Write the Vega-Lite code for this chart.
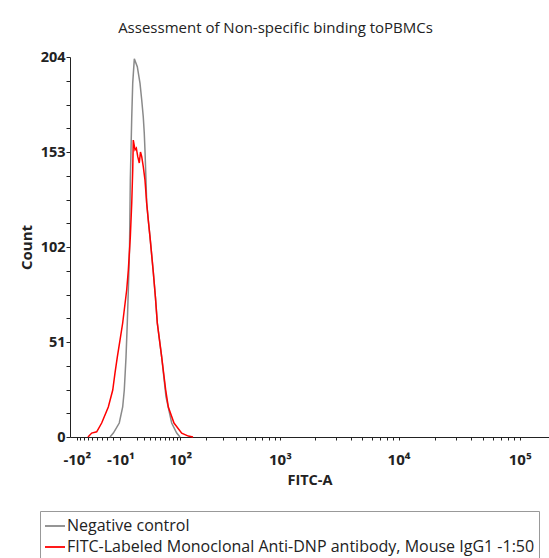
{
  "$schema": "https://vega.github.io/schema/vega-lite/v6.json",
  "width": 479,
  "height": 380,
  "autosize": {"type": "none"},
  "padding": {"left": 70, "top": 57, "right": 0, "bottom": 121},
  "background": "white",
  "config": {
    "view": {"stroke": null},
    "font": "Open Sans"
  },
  "title": {
    "text": "Assessment of Non-specific binding toPBMCs",
    "fontSize": 15,
    "fontWeight": "normal",
    "color": "#222",
    "anchor": "middle",
    "dx": -34,
    "offset": 13
  },
  "datasets": {
    "hist": [
      {"series": "Negative control", "fitc": -25.2, "count": 0},
      {"series": "Negative control", "fitc": -20.0, "count": 2.1},
      {"series": "Negative control", "fitc": -11.5, "count": 7.5},
      {"series": "Negative control", "fitc": -7.0, "count": 16.1},
      {"series": "Negative control", "fitc": -5.0, "count": 25.2},
      {"series": "Negative control", "fitc": -2.9, "count": 42.9},
      {"series": "Negative control", "fitc": -1.4, "count": 61.2},
      {"series": "Negative control", "fitc": -0.2, "count": 78.9},
      {"series": "Negative control", "fitc": 1.15, "count": 100.4},
      {"series": "Negative control", "fitc": 2.1, "count": 138},
      {"series": "Negative control", "fitc": 2.9, "count": 154.1},
      {"series": "Negative control", "fitc": 3.8, "count": 171.8},
      {"series": "Negative control", "fitc": 5.0, "count": 190},
      {"series": "Negative control", "fitc": 7.0, "count": 203},
      {"series": "Negative control", "fitc": 10.9, "count": 198.8},
      {"series": "Negative control", "fitc": 14.6, "count": 190},
      {"series": "Negative control", "fitc": 17.1, "count": 180.9},
      {"series": "Negative control", "fitc": 19.4, "count": 171.8},
      {"series": "Negative control", "fitc": 20.9, "count": 163.2},
      {"series": "Negative control", "fitc": 22.0, "count": 154.1},
      {"series": "Negative control", "fitc": 23.6, "count": 138},
      {"series": "Negative control", "fitc": 24.7, "count": 125.6},
      {"series": "Negative control", "fitc": 27.3, "count": 116.5},
      {"series": "Negative control", "fitc": 30.2, "count": 107.4},
      {"series": "Negative control", "fitc": 36.0, "count": 88.6},
      {"series": "Negative control", "fitc": 40.1, "count": 74.6},
      {"series": "Negative control", "fitc": 43.6, "count": 61.2},
      {"series": "Negative control", "fitc": 52.6, "count": 42.9},
      {"series": "Negative control", "fitc": 62.2, "count": 21.5},
      {"series": "Negative control", "fitc": 76.1, "count": 7.5},
      {"series": "Negative control", "fitc": 89.7, "count": 2.1},
      {"series": "Negative control", "fitc": 99.4, "count": 0},
      {"series": "FITC-Labeled Monoclonal Anti-DNP antibody, Mouse IgG1 -1:50", "fitc": -69.4, "count": 0},
      {"series": "FITC-Labeled Monoclonal Anti-DNP antibody, Mouse IgG1 -1:50", "fitc": -60.6, "count": 2.1},
      {"series": "FITC-Labeled Monoclonal Anti-DNP antibody, Mouse IgG1 -1:50", "fitc": -49.7, "count": 2.8},
      {"series": "FITC-Labeled Monoclonal Anti-DNP antibody, Mouse IgG1 -1:50", "fitc": -39.8, "count": 7.5},
      {"series": "FITC-Labeled Monoclonal Anti-DNP antibody, Mouse IgG1 -1:50", "fitc": -28.0, "count": 16.1},
      {"series": "FITC-Labeled Monoclonal Anti-DNP antibody, Mouse IgG1 -1:50", "fitc": -20.9, "count": 25.2},
      {"series": "FITC-Labeled Monoclonal Anti-DNP antibody, Mouse IgG1 -1:50", "fitc": -17.5, "count": 34.4},
      {"series": "FITC-Labeled Monoclonal Anti-DNP antibody, Mouse IgG1 -1:50", "fitc": -14.2, "count": 42.9},
      {"series": "FITC-Labeled Monoclonal Anti-DNP antibody, Mouse IgG1 -1:50", "fitc": -10.5, "count": 52},
      {"series": "FITC-Labeled Monoclonal Anti-DNP antibody, Mouse IgG1 -1:50", "fitc": -7.0, "count": 61.2},
      {"series": "FITC-Labeled Monoclonal Anti-DNP antibody, Mouse IgG1 -1:50", "fitc": -2.1, "count": 78.9},
      {"series": "FITC-Labeled Monoclonal Anti-DNP antibody, Mouse IgG1 -1:50", "fitc": -0.2, "count": 89.6},
      {"series": "FITC-Labeled Monoclonal Anti-DNP antibody, Mouse IgG1 -1:50", "fitc": 2.1, "count": 107.4},
      {"series": "FITC-Labeled Monoclonal Anti-DNP antibody, Mouse IgG1 -1:50", "fitc": 3.8, "count": 125.6},
      {"series": "FITC-Labeled Monoclonal Anti-DNP antibody, Mouse IgG1 -1:50", "fitc": 5.0, "count": 143.3},
      {"series": "FITC-Labeled Monoclonal Anti-DNP antibody, Mouse IgG1 -1:50", "fitc": 5.7, "count": 159.4},
      {"series": "FITC-Labeled Monoclonal Anti-DNP antibody, Mouse IgG1 -1:50", "fitc": 7.9, "count": 154.1},
      {"series": "FITC-Labeled Monoclonal Anti-DNP antibody, Mouse IgG1 -1:50", "fitc": 9.6, "count": 155.1},
      {"series": "FITC-Labeled Monoclonal Anti-DNP antibody, Mouse IgG1 -1:50", "fitc": 11.5, "count": 150.5},
      {"series": "FITC-Labeled Monoclonal Anti-DNP antibody, Mouse IgG1 -1:50", "fitc": 13.6, "count": 147.1},
      {"series": "FITC-Labeled Monoclonal Anti-DNP antibody, Mouse IgG1 -1:50", "fitc": 15.3, "count": 153},
      {"series": "FITC-Labeled Monoclonal Anti-DNP antibody, Mouse IgG1 -1:50", "fitc": 17.1, "count": 150.5},
      {"series": "FITC-Labeled Monoclonal Anti-DNP antibody, Mouse IgG1 -1:50", "fitc": 19.4, "count": 145.1},
      {"series": "FITC-Labeled Monoclonal Anti-DNP antibody, Mouse IgG1 -1:50", "fitc": 22.0, "count": 138},
      {"series": "FITC-Labeled Monoclonal Anti-DNP antibody, Mouse IgG1 -1:50", "fitc": 24.7, "count": 125.6},
      {"series": "FITC-Labeled Monoclonal Anti-DNP antibody, Mouse IgG1 -1:50", "fitc": 27.3, "count": 116.5},
      {"series": "FITC-Labeled Monoclonal Anti-DNP antibody, Mouse IgG1 -1:50", "fitc": 30.2, "count": 107.4},
      {"series": "FITC-Labeled Monoclonal Anti-DNP antibody, Mouse IgG1 -1:50", "fitc": 36.0, "count": 88.6},
      {"series": "FITC-Labeled Monoclonal Anti-DNP antibody, Mouse IgG1 -1:50", "fitc": 40.1, "count": 74.6},
      {"series": "FITC-Labeled Monoclonal Anti-DNP antibody, Mouse IgG1 -1:50", "fitc": 43.6, "count": 61.2},
      {"series": "FITC-Labeled Monoclonal Anti-DNP antibody, Mouse IgG1 -1:50", "fitc": 52.6, "count": 42.9},
      {"series": "FITC-Labeled Monoclonal Anti-DNP antibody, Mouse IgG1 -1:50", "fitc": 61.5, "count": 25.2},
      {"series": "FITC-Labeled Monoclonal Anti-DNP antibody, Mouse IgG1 -1:50", "fitc": 67.7, "count": 16.1},
      {"series": "FITC-Labeled Monoclonal Anti-DNP antibody, Mouse IgG1 -1:50", "fitc": 82.2, "count": 7.5},
      {"series": "FITC-Labeled Monoclonal Anti-DNP antibody, Mouse IgG1 -1:50", "fitc": 104.6, "count": 2.1},
      {"series": "FITC-Labeled Monoclonal Anti-DNP antibody, Mouse IgG1 -1:50", "fitc": 126.6, "count": 0.5},
      {"series": "FITC-Labeled Monoclonal Anti-DNP antibody, Mouse IgG1 -1:50", "fitc": 144, "count": 0}
    ]
  },
  "data": {"name": "hist"},
  "mark": {"type": "line", "strokeWidth": 1.5, "interpolate": "linear"},
  "encoding": {
    "x": {
      "field": "fitc",
      "type": "quantitative",
      "scale": {"type": "symlog", "constant": 60, "domain": [-122, 174500], "nice": false, "zero": false},
      "axis": {
        "title": "FITC-A",
        "titleFontSize": 14.5,
        "titleFontWeight": "bold",
        "titleColor": "#222",
        "titlePadding": 6,
        "values": [-100, -90, -80, -70, -60, -50, -40, -30, -20, -10, 10, 20, 30, 40, 50, 60, 70, 80, 90, 100, 200, 300, 400, 500, 600, 700, 800, 900, 1000, 2000, 3000, 4000, 5000, 6000, 7000, 8000, 9000, 10000, 20000, 30000, 40000, 50000, 60000, 70000, 80000, 90000, 100000],
        "labelExpr": "datum.value == -100 ? '-10²' : datum.value == -10 ? '-10¹' : datum.value == 100 ? '10²' : datum.value == 1000 ? '10³' : datum.value == 10000 ? '10⁴' : datum.value == 100000 ? '10⁵' : ''",
        "labelFontSize": 15,
        "labelFontWeight": "bold",
        "labelColor": "#222",
        "labelPadding": 12,
        "labelOverlap": false,
        "labelFlush": false,
        "tickSize": 3,
        "tickColor": "#222",
        "domainColor": "#222",
        "grid": false
      }
    },
    "y": {
      "field": "count",
      "type": "quantitative",
      "scale": {"domain": [0, 204], "nice": false},
      "axis": {
        "title": "Count",
        "titleFontSize": 15,
        "titleFontWeight": "bold",
        "titleColor": "#222",
        "titlePadding": 6,
        "values": [0, 12.75, 25.5, 38.25, 51, 63.75, 76.5, 89.25, 102, 114.75, 127.5, 140.25, 153, 165.75, 178.5, 191.25, 204],
        "labelExpr": "datum.value % 51 == 0 ? format(datum.value, 'd') : ''",
        "labelFontSize": 14.5,
        "labelFontWeight": "bold",
        "labelColor": "#222",
        "labelPadding": 1,
        "tickSize": 4,
        "tickColor": "#222",
        "domainColor": "#222",
        "grid": false
      }
    },
    "color": {
      "field": "series",
      "type": "nominal",
      "scale": {
        "domain": ["Negative control", "FITC-Labeled Monoclonal Anti-DNP antibody, Mouse IgG1 -1:50"],
        "range": ["#8a8a8a", "#ff0000"]
      },
      "legend": {
        "title": null,
        "orient": "none",
        "legendX": -30,
        "legendY": 454,
        "direction": "vertical",
        "symbolType": "stroke",
        "symbolSize": 400,
        "symbolStrokeWidth": 1.8,
        "labelFontSize": 16,
        "labelColor": "#222",
        "labelLimit": 600,
        "labelOffset": 1,
        "rowPadding": 2,
        "padding": 4,
        "strokeColor": "#999",
        "fillColor": "white"
      }
    }
  }
}
